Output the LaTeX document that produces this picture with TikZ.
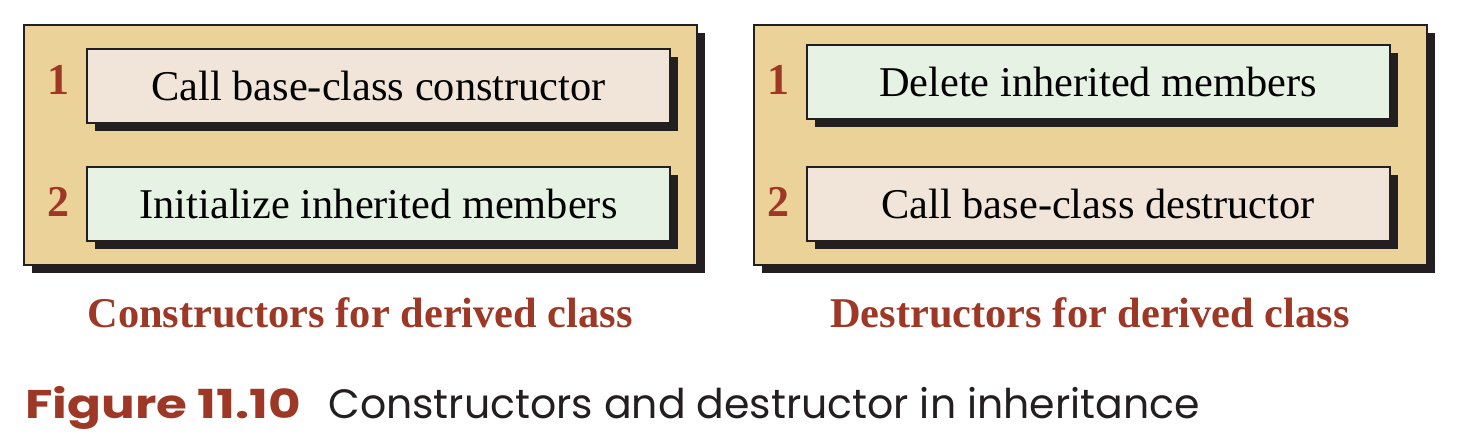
\documentclass[tikz,border=0pt]{standalone}
\usepackage{fontspec}
\setmainfont{Liberation Serif}
\newfontfamily\figfont{Poppins}
\newfontfamily\fignumfont[FakeStretch=1.25]{Poppins}
\usetikzlibrary{shadows}
\definecolor{tanbg}{RGB}{235,210,153}
\definecolor{boxrose}{RGB}{240,229,216}
\definecolor{boxmint}{RGB}{230,242,228}
\definecolor{figred}{RGB}{158,56,38}
\definecolor{inkdark}{RGB}{35,31,32}
\tikzset{panel/.style = {draw=inkdark, line width=1pt, fill=tanbg, inner sep=0pt,
    minimum width=336.5pt, minimum height=120pt,
    general shadow={fill=inkdark, draw=none, shadow xshift=4pt, shadow yshift=-4pt}}}
\tikzset{stepbox/.style = {draw=inkdark, line width=1pt, inner sep=0pt,
    minimum width=291.5pt, minimum height=37pt, font=\fontsize{21.2}{25}\selectfont,
    general shadow={fill=inkdark, draw=none, shadow xshift=4pt, shadow yshift=-4pt}}}
\tikzset{stepnum/.style = {text=figred, font=\fontsize{22}{25}\selectfont\bfseries}}
\tikzset{paneltitle/.style = {text=figred, font=\fontsize{21.2}{25}\selectfont\bfseries}}

\begin{document}
\begin{tikzpicture}[x=0.5pt, y=-0.5pt]
\useasboundingbox (0,0) rectangle (1460,444);
% constructors
\node[panel] (ctor) at (360.5,145) {};
\node[stepbox, fill=boxrose] (ctorA) at (378.5,86) {Call base-class constructor};
\node[stepbox, fill=boxmint] (ctorB) at (378.5,204) {Initialize inherited members};
\node[stepnum] (ctorA1) at (58,80) {1};
\node[stepnum] (ctorB2) at (58,202) {2};
\node[paneltitle] (ctorT) at (360,313) {Constructors for derived class};
% destructors
\node[panel] (dtor) at (1090.5,145) {};
\node[stepbox, fill=boxmint] (dtorA) at (1098,82) {Delete inherited members};
\node[stepbox, fill=boxrose] (dtorB) at (1098,204) {Call base-class destructor};
\node[stepnum] (dtorA1) at (778,80) {1};
\node[stepnum] (dtorB2) at (778,202) {2};
\node[paneltitle] (dtorT) at (1090,313) {Destructors for derived class};
% caption
\node[anchor=base west, inner sep=0pt, text=figred, font=\fignumfont\fontsize{20}{24}\selectfont\bfseries]
  (fignum) at (25,418) {Figure 11.10};
\node[anchor=base west, inner sep=0pt, text=inkdark, font=\figfont\fontsize{20.5}{24}\selectfont]
  (figtext) at (328,418) {Constructors and destructor in inheritance};
\end{tikzpicture}
\end{document}
